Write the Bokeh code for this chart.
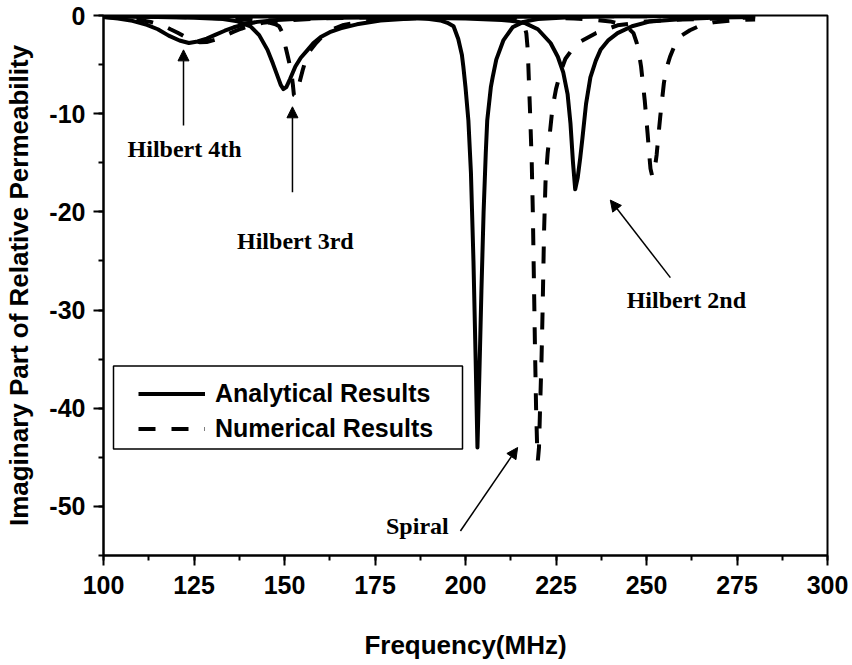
from bokeh.plotting import figure
from bokeh.models import (Range1d, SingleIntervalTicker, Legend, LegendItem, PrintfTickFormatter,
                          Arrow, NormalHead, BoxAnnotation, ColumnDataSource)
from bokeh.core.properties import value
from bokeh.embed import file_html
from bokeh.resources import INLINE

# ---- data: imaginary part of relative permeability vs frequency (MHz) ----
# Hilbert 4th order
ana4_f = [100, 104, 108, 112, 115, 118, 121, 123.6, 126, 128.5, 131, 133.5, 136, 139, 142.5,
          148, 154, 165, 180, 200, 240, 280]
ana4_mu = [-0.15, -0.3, -0.55, -0.95, -1.4, -2.05, -2.55, -2.8, -2.65, -2.35, -1.95, -1.55,
           -1.2, -0.9, -0.65, -0.45, -0.33, -0.22, -0.15, -0.1, -0.05, -0.03]
num4_f = [100, 105, 110, 113, 116, 118.5, 120.5, 122.5, 124.5, 126.5, 128.5, 131, 133.5, 136,
          138, 140, 144, 150, 160, 175, 200, 240, 280]
num4_mu = [-0.15, -0.25, -0.45, -0.65, -0.95, -1.4, -1.75, -2.15, -2.5, -2.72, -2.7, -2.45,
           -2.05, -1.65, -1.35, -1.1, -0.75, -0.5, -0.3, -0.18, -0.1, -0.05, -0.03]

# Hilbert 3rd order
ana3_f = [100, 115, 125, 133, 137, 140.6, 143, 145.3, 146.8, 148.1, 149, 149.7, 150.5, 151.5,
          153, 154.5, 156.4, 158, 160, 162.5, 165.5, 170, 176.5, 185, 200, 230, 280]
ana3_mu = [-0.1, -0.15, -0.22, -0.35, -0.6, -1.1, -2.0, -3.5, -4.9, -6.2, -7.1, -7.5, -7.3,
           -6.5, -5.2, -4.3, -3.5, -2.8, -2.2, -1.7, -1.3, -0.9, -0.5, -0.3, -0.15, -0.08, -0.05]
num3_f = [100, 120, 130, 140, 144, 146, 147.5, 148.5, 149.5, 150.3, 151, 151.8, 152.3, 152.6,
          153, 153.6, 154.3, 155, 155.8, 157, 158.5, 160, 161.6, 163.2, 166, 170, 176, 185,
          200, 230, 280]
num3_mu = [-0.08, -0.15, -0.25, -0.45, -0.6, -0.75, -0.9, -1.1, -1.8, -3.2, -4.3, -5.6, -7.0,
           -8.1, -8.2, -7.6, -6.6, -5.6, -4.6, -3.6, -2.9, -2.3, -1.8, -1.4, -1.0, -0.7, -0.45,
           -0.3, -0.15, -0.08, -0.05]

# Spiral
anas_f = [100, 150, 175, 185, 190, 193, 195, 196.7, 198, 199, 199.4, 200, 200.8, 201.5, 202.2,
          202.8, 203.3, 203.8, 204.4, 205, 205.6, 206, 207, 207.5, 208.5, 210.5, 213, 216, 220,
          230, 240, 260, 280]
anas_mu = [-0.02, -0.05, -0.12, -0.22, -0.35, -0.5, -0.75, -1.1, -2.4, -4.0, -5.2, -7.3, -10.7,
           -16, -25, -35, -44, -37, -28, -20, -14, -10.7, -7.3, -6.3, -4.5, -2.5, -1.2, -0.65,
           -0.35, -0.15, -0.08, -0.04, -0.02]
nums_f = [100, 150, 200, 210, 214, 216, 216.8, 217.2, 217.5, 217.9, 218.3, 218.6, 218.9, 219.2,
          219.5, 219.8, 220.0, 220.3, 220.6, 221.0, 221.3, 221.7, 222.1, 222.7, 223.3, 224.0,
          225.0, 226.3, 227.6, 230, 232, 236, 242, 250, 260, 270, 280]
nums_mu = [-0.05, -0.08, -0.15, -0.25, -0.4, -0.7, -1.8, -3.5, -6.5, -10.5, -15, -20, -27, -34,
           -40, -44, -45.3, -44, -40, -35, -30, -22, -17, -14, -12, -9.5, -7.5, -5.7, -4.4,
           -3.2, -2.6, -1.8, -1.0, -0.6, -0.4, -0.3, -0.2]

# Hilbert 2nd order
ana2_f = [100, 150, 180, 200, 210, 214, 216.6, 220, 223.5, 225.5, 227, 228.2, 229, 229.7,
          230.3, 231, 231.7, 232.3, 233.3, 234.5, 236, 237.3, 239.5, 242, 246, 251, 260, 270, 280]
ana2_mu = [-0.05, -0.1, -0.2, -0.3, -0.45, -0.6, -0.8, -1.4, -2.8, -4.2, -5.8, -8, -11, -15,
           -17.7, -16.5, -14.5, -12.5, -9, -6.3, -4.6, -3.5, -2.5, -1.8, -1.1, -0.6, -0.35,
           -0.2, -0.15]
num2_f = [100, 200, 230, 236, 240, 243, 245, 246.4, 247.3, 247.9, 248.5, 249.0, 249.5, 249.9,
          250.3, 250.7, 251.1, 251.6, 252.2, 252.8, 253.3, 253.8, 254.3, 254.8, 255.5, 256.5,
          257.5, 259.4, 262, 265, 268.5, 274, 280]
num2_mu = [-0.05, -0.15, -0.3, -0.45, -0.6, -0.9, -1.3, -1.8, -2.8, -3.8, -5.2, -6.9, -8.6,
           -10.3, -12, -13.9, -15.6, -16.4, -15.8, -14.2, -12.2, -10.3, -8.6, -6.9, -5.4, -4.2,
           -3.3, -2.1, -1.5, -1.0, -0.7, -0.5, -0.4]

# callouts naming each structure
note_text = ["Hilbert 4th", "Hilbert 3rd", "Hilbert 2nd", "Spiral"]
note_x = [122.4, 153.0, 261.0, 186.7]
note_y = [-13.6, -23.0, -29.0, -52.0]
arrow_x0 = [122.1, 152.2, 256.6, 198.6]
arrow_y0 = [-11.2, -18.0, -26.7, -52.5]
arrow_x1 = [122.1, 152.2, 240.0, 214.4]
arrow_y1 = [-3.5, -9.3, -18.8, -44.0]

SANS = "Liberation Sans"
SERIF = "Liberation Serif"

p = figure(width=852, height=665, output_backend="svg", toolbar_location=None,
           x_range=Range1d(100, 300), y_range=Range1d(-55, 0),
           min_border_left=103, min_border_right=25, min_border_top=15,
           min_border_bottom=110)
p.xgrid.visible = False
p.ygrid.visible = False
p.outline_line_color = "black"
p.outline_line_width = 2
p.background_fill_color = "white"
p.border_fill_color = "white"

p.xaxis.ticker = SingleIntervalTicker(interval=25, num_minor_ticks=2)
p.yaxis.ticker = SingleIntervalTicker(interval=10, num_minor_ticks=2)
p.yaxis.formatter = PrintfTickFormatter(format="%d")
p.xaxis.axis_label = "Frequency(MHz)"
p.yaxis.axis_label = "Imaginary Part of Relative Permeability"

for ax in (p.xaxis[0], p.yaxis[0]):
    ax.axis_line_width = 2
    ax.major_tick_line_width = 2
    ax.minor_tick_line_width = 2
    ax.major_tick_out = 10
    ax.major_tick_in = 0
    ax.minor_tick_out = 5
    ax.minor_tick_in = 0
    ax.major_label_text_font = SANS
    ax.major_label_text_font_style = "bold"
    ax.major_label_text_font_size = "25px"
    ax.major_label_text_color = "black"
    ax.axis_label_text_font = SANS
    ax.axis_label_text_font_style = "bold"
    ax.axis_label_text_font_size = "26px"
    ax.axis_label_text_color = "black"
p.xaxis[0].major_label_standoff = 10
p.xaxis[0].axis_label_standoff = 33
p.yaxis[0].major_label_standoff = 8
p.yaxis[0].axis_label_standoff = 12

# curves
solid = dict(color="black", line_width=4, line_join="round")
dashed = dict(color="black", line_width=4, line_dash="17 16")
r_ana4 = p.line(ana4_f, ana4_mu, **solid)
p.line(ana3_f, ana3_mu, **solid)
p.line(anas_f, anas_mu, **solid)
p.line(ana2_f, ana2_mu, **solid)
r_num4 = p.line(num4_f, num4_mu, **dashed)
p.line(num3_f, num3_mu, **dashed)
p.line(nums_f, nums_mu, **dashed)
p.line(num2_f, num2_mu, **dashed)

# callout arrows and labels
arrows = ColumnDataSource(dict(x0=arrow_x0, y0=arrow_y0, x1=arrow_x1, y1=arrow_y1))
p.add_layout(Arrow(x_start="x0", y_start="y0", x_end="x1", y_end="y1", source=arrows,
                   line_color="black", line_width=1.5,
                   end=NormalHead(size=11, fill_color="black", line_color="black",
                                  line_width=1)))
notes = ColumnDataSource(dict(x=note_x, y=note_y, t=note_text))
p.text(x="x", y="y", text="t", source=notes, text_font=value(SERIF),
       text_font_style="bold", text_font_size="24px", text_align="center",
       text_baseline="middle", text_color="black")

# legend
legend = Legend(items=[LegendItem(label="Analytical Results", renderers=[r_ana4]),
                       LegendItem(label="Numerical Results", renderers=[r_num4])],
                location=(10, 84), padding=25, spacing=0, glyph_width=67,
                glyph_height=35, label_height=35, label_standoff=10,
                label_text_font=SANS, label_text_font_style="bold",
                label_text_font_size="25px", label_text_color="black",
                border_line_alpha=0, background_fill_alpha=0)
p.add_layout(legend)
p.add_layout(BoxAnnotation(left=10, right=359, bottom=106.5, top=189.5,
                           left_units="screen", right_units="screen",
                           bottom_units="screen", top_units="screen",
                           fill_alpha=0, line_color="black", line_width=1.5,
                           line_alpha=1))

open("out.html", "w").write(file_html(p, INLINE))
